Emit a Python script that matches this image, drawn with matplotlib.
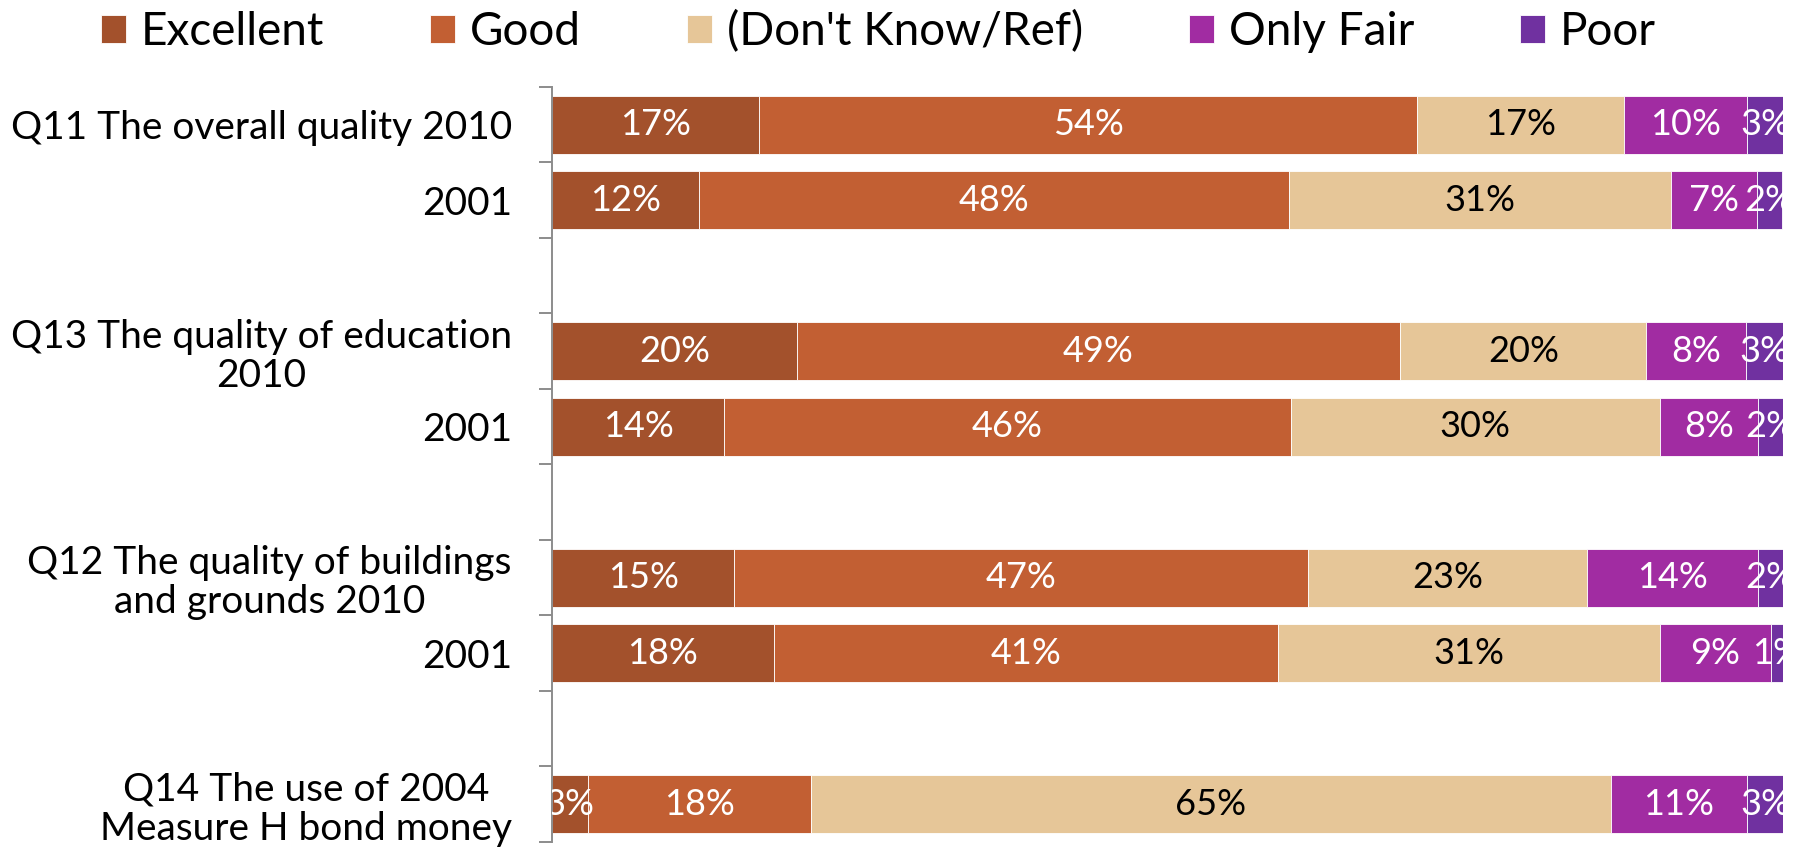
import numpy as np
import matplotlib
matplotlib.use("Agg")
import matplotlib.pyplot as plt
from matplotlib.ticker import FixedLocator

plt.rcParams['font.family'] = ['Lato', 'DejaVu Sans']

# ---- data (percent) ----
series = ["Excellent", "Good", "(Don't Know/Ref)", "Only Fair", "Poor"]
colors = ["#A3512C", "#C25F33", "#E6C698", "#A12CA2", "#7031A0"]
label_colors = ["white", "white", "black", "white", "white"]

# groups of rows, top to bottom; a blank slot separates groups
groups = [
    ["Q11 The overall quality 2010", "2001"],
    ["Q13 The quality of education\n2010", "2001"],
    ["Q12 The quality of buildings\nand grounds 2010", "2001"],
    ["Q14 The use of 2004\nMeasure H bond money"],
]
excellent = [16.8, 11.9, 19.9, 14.0, 14.8, 18.0, 2.9]
good      = [53.5, 48.0, 49.0, 46.0, 46.6, 41.0, 18.1]
dont_know = [16.8, 31.0, 20.0, 30.0, 22.7, 31.0, 65.0]
only_fair = [10.0, 7.0, 8.1, 8.0, 13.9, 9.0, 11.1]
poor      = [3.0, 2.0, 3.0, 2.0, 2.0, 1.0, 3.0]

values = np.array([excellent, good, dont_know, only_fair, poor])

# slot positions (top slot = 0), with a blank slot between groups
row_labels, row_pos = [], []
slot = 0
for g in groups:
    for lab in g:
        row_labels.append(lab)
        row_pos.append(slot)
        slot += 1
    slot += 1
n_slots = slot - 1
row_pos = np.array(row_pos)

# ---- figure ----
fig = plt.figure(figsize=(17.97, 8.51), dpi=100)
ax = fig.add_axes([0.3072, 0.0106, 0.685, 0.8872])

left = np.zeros(len(row_pos))
for i, name in enumerate(series):
    bars = ax.barh(row_pos, values[i], left=left, height=0.765,
                   color=colors[i], edgecolor="white", linewidth=0.6,
                   label=name)
    for b, v in zip(bars, values[i]):
        ax.text(b.get_x() + b.get_width() / 2, b.get_y() + b.get_height() / 2,
                f"{int(round(v))}%", ha="center", va="center",
                fontsize=26, color=label_colors[i], clip_on=True)
    left = left + values[i]

ax.set_xlim(0, 100)
ax.set_ylim(n_slots - 0.5, -0.5)

# ticks between slots, labels at slot centers
ax.yaxis.set_major_locator(FixedLocator(np.arange(-0.5, n_slots, 1.0)))
ax.yaxis.set_major_formatter(plt.NullFormatter())
ax.yaxis.set_minor_locator(FixedLocator(row_pos))
ax.set_yticklabels(row_labels, minor=True)
ax.tick_params(axis="y", which="major", direction="out", length=9.4,
               width=1.4, color="#8c8c8c")
ax.tick_params(axis="y", which="minor", length=0, pad=29, labelsize=28)
for t in ax.get_yticklabels(minor=True):
    t.set_multialignment("center")
    t.set_linespacing(1.1)

ax.set_xticks([])
for s in ["top", "right", "bottom"]:
    ax.spines[s].set_visible(False)
ax.spines["left"].set_color("#8c8c8c")
ax.spines["left"].set_linewidth(1.4)

fig.legend(loc="center left", bbox_to_anchor=(0.056, 0.963), ncol=5,
           frameon=False, fontsize=33, handlelength=0.55, handleheight=0.55,
           handletextpad=0.33, columnspacing=2.3, borderpad=0, borderaxespad=0)

fig.savefig("out.png", dpi=100)
